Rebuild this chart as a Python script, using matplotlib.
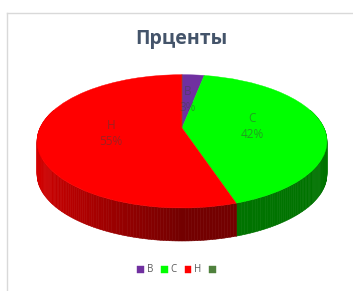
# 3D-looking pie chart "Прценты" (Excel style) redone with matplotlib
import numpy as np
import matplotlib
matplotlib.use("Agg")
import matplotlib.pyplot as plt
import matplotlib.transforms as mtransforms
from matplotlib.collections import PolyCollection
from matplotlib.colors import to_rgb

plt.rcParams['font.family'] = ['Open Sans', 'DejaVu Sans']

title = "Прценты"
categories = ["В", "С", "Н", ""]
values = [3, 42, 55, 0]
colors = ["#7030A0", "#00FF00", "#FF0000", "#4F813D"]

# geometry of the tilted disc (figure pixels, y going up)
W, H = 353, 291
cx, cy = 182, H - 128
A, B, q = 142, 64, 0.2
depth = 33


class Persp(mtransforms.Transform):
    input_dims = 2
    output_dims = 2
    is_separable = False
    has_inverse = False

    def transform_non_affine(self, xy):
        xy = np.asarray(xy, dtype=float)
        x, y = xy[:, 0], xy[:, 1]
        w = 1 + q * y
        return np.column_stack([cx + A * x / w, cy + B * y / w])


persp = Persp()

fig = plt.figure(figsize=(W / 100, H / 100), dpi=100)
ax = fig.add_axes([0, 0, 1, 1])

wedges, _ = ax.pie(values, colors=colors, startangle=90, counterclock=False,
                   radius=1, wedgeprops=dict(linewidth=0.3))
ax.set_aspect('auto')
ax.set_xlim(0, W)
ax.set_ylim(0, H)
ax.axis('off')

for wg, c in zip(wedges, colors):
    wg.set_transform(persp + ax.transData)
    wg.set_edgecolor(c)
    wg.set_zorder(5)

# side of the disc, shaded by angle
polys, fcs = [], []
for wg, c in zip(wedges, colors):
    if wg.theta2 - wg.theta1 <= 0:
        continue
    base = np.array(to_rgb(c))
    ang = np.deg2rad(np.arange(wg.theta1, wg.theta2 + 0.01, 1.0))
    if ang[-1] < np.deg2rad(wg.theta2):
        ang = np.append(ang, np.deg2rad(wg.theta2))
    top = persp.transform(np.column_stack([np.cos(ang), np.sin(ang)]))
    for i in range(len(ang) - 1):
        if np.sin((ang[i] + ang[i + 1]) / 2) > 0.3:
            continue
        p0, p1 = top[i], top[i + 1]
        polys.append([p0, p1, p1 - [0, depth], p0 - [0, depth]])
        tm = (ang[i] + ang[i + 1]) / 2
        f = 0.45 + 0.4 * max(0.0, -np.cos(tm))
        fcs.append(base * f)
side = PolyCollection(polys, facecolors=fcs, edgecolors=fcs, linewidths=0.4, zorder=3)
ax.add_collection(side)

# labels inside slices
total = sum(values)
for wg, cat, v in zip(wedges, categories, values):
    if v == 0:
        continue
    t = np.deg2rad((wg.theta1 + wg.theta2) / 2)
    px, py = persp.transform(np.array([[0.5 * np.cos(t), 0.5 * np.sin(t)]]))[0]
    ax.text(px, py, f"{cat}\n{v / total * 100:.0f}%", ha='center', va='center',
            fontsize=8.5, color='#404040', alpha=0.5, linespacing=1.3, zorder=6)

ax.text(181, H - 39, title, ha='center', va='center', fontsize=14,
        fontweight='bold', color='#44546A')

# chart frame
ax.plot([6.5, W], [H - 12.5, H - 12.5], color='#d9d9d9', lw=1, zorder=1)
ax.plot([6.5, 6.5], [H - 12.5, 0], color='#d9d9d9', lw=1, zorder=1)

ax.legend(wedges, categories, ncol=4, loc='center', frameon=False,
          bbox_to_anchor=(178 / W, 1 - 270 / H), fontsize=7, labelcolor='#595959',
          handlelength=0.7, handleheight=0.7, handletextpad=0.3, columnspacing=0.8)

fig.savefig("out.png", dpi=100)
